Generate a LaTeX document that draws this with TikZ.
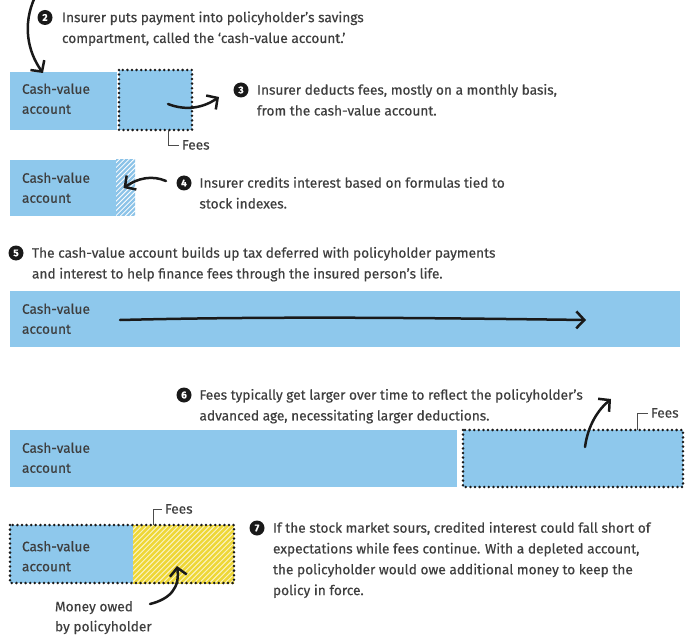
\documentclass[tikz,border=0pt]{standalone}
\usepackage{fontspec}
\setmainfont{Fira Sans}[FakeBold=0.35]
\usetikzlibrary{arrows.meta}
\definecolor{cvblue}{RGB}{142,200,236}
\definecolor{txt}{RGB}{62,62,62}
\definecolor{hyellow}{RGB}{238,215,55}
\definecolor{hblue}{RGB}{140,195,232}
\tikzset{
  x=1pt,y=-1pt,
  every node/.style={inner sep=0pt,outer sep=0pt},
  body/.style={anchor=north west,align=left,text=txt,font=\fontsize{13.7}{20.8}\selectfont},
  lbl/.style={anchor=north west,align=left,text=txt,font=\fontsize{13.7}{20}\selectfont},
  num/.style={circle,fill=black!90,text=white,minimum size=15pt,font=\bfseries\fontsize{10}{10}\selectfont},
  acct/.style={anchor=north west,fill=cvblue,draw=none},
  dotbox/.style={draw=black!90,line width=2.8pt,dash pattern=on 0pt off 4.6pt,line cap=round},
  harrow/.style={draw=black!90,line width=2.5pt,line cap=round,-{Straight Barb[length=8pt,width=17pt,line width=2.5pt]}},
  brk/.style={draw=black!70,line width=0.8pt},
}
\begin{document}
\begin{tikzpicture}
\useasboundingbox[fill=white] (0,0) rectangle (687,644);

% ---- step 2
\coordinate (a0) at (35,-3);
\node[num] (n2) at (45,17.5) {2};
\node[body] (t2) at (62,11.5) {Insurer puts payment into policyholder’s savings\\compartment, called the ‘cash-value account.’};

% ---- row 1
\node[acct,minimum width=107pt,minimum height=58pt] (b1) at (10,72) {};
\node[lbl] (b1t) at (22,83.5) {Cash-value\\account};
\node[acct,minimum width=73pt,minimum height=60pt] (f1) at (119,70) {};
\draw[dotbox] (f1.north west) rectangle (f1.south east);
\coordinate (f1b) at (168,130);
\node[lbl,anchor=west] (f1t) at (182,145) {Fees};
\draw[brk] (f1b) |- ([xshift=-3pt]f1t.west);
\draw[harrow] (a0) .. controls (22,25) and (28,52) .. (43,73);
\coordinate (a3s) at (168,104);
\coordinate (a3e) at (219,97);
\draw[harrow] (a3s) .. controls (186,111) and (203,108) .. (a3e);
\node[num] (n3) at (241,90) {3};
\node[body] (t3) at (257,84) {Insurer deducts fees, mostly on a monthly basis,\\from the cash-value account.};

% ---- row 2
\node[acct,minimum width=106pt,minimum height=56pt] (b2) at (10,160) {};
\node[lbl] (b2t) at (22,172.5) {Cash-value\\account};
\node[anchor=north west,minimum width=19pt,minimum height=56pt] (h2) at (116,160) {};
\begin{scope}
\clip (h2.north west) rectangle (h2.south east);
\foreach \i in {0,...,24} {\draw[hblue,line width=2.2pt] (40+\i*4.8,222) -- (106+\i*4.8,156);}
\end{scope}
\coordinate (a4s) at (166,181);
\draw[harrow] (a4s) .. controls (152,175) and (138,178) .. ([xshift=-2pt]h2.center);
\node[num] (n4) at (184,183) {4};
\node[body] (t4) at (199.5,177) {Insurer credits interest based on formulas tied to\\stock indexes.};

% ---- step 5
\node[num] (n5) at (16,253) {5};
\node[body] (t5) at (32,247) {The cash-value account builds up tax deferred with policyholder payments\\and interest to help finance fees through the insured person’s life.};
\node[acct,minimum width=670pt,minimum height=56pt] (b3) at (10,291) {};
\node[lbl] (b3t) at (22,303.5) {Cash-value\\account};
\coordinate (a5s) at (120,320);
\coordinate (a5e) at (586,320);
\draw[harrow] (a5s) .. controls (280,316) and (430,318) .. (a5e);

% ---- step 6
\node[num] (n6) at (184,395) {6};
\node[body] (t6) at (199.5,389) {Fees typically get larger over time to reflect the policyholder’s\\advanced age, necessitating larger deductions.};
\node[acct,minimum width=447pt,minimum height=57pt] (b4) at (10,430) {};
\node[lbl] (b4t) at (22,442.5) {Cash-value\\account};
\node[acct,minimum width=220pt,minimum height=57pt] (f4) at (463,430) {};
\draw[dotbox] (f4.north west) rectangle (f4.south east);
\coordinate (f4b) at (637,430);
\node[lbl,anchor=west] (f4t) at (651,413) {Fees};
\draw[brk] (f4b) |- ([xshift=-3pt]f4t.west);
\coordinate (a6s) at (585,447);
\coordinate (a6e) at (611,399);
\draw[harrow] (a6s) .. controls (588,425) and (598,410) .. (a6e);

% ---- step 7
\node[acct,minimum width=123pt,minimum height=58pt] (b5) at (10,525) {};
\node[lbl] (b5t) at (22,541) {Cash-value\\account};
\node[anchor=north west,minimum width=101pt,minimum height=58pt] (h5) at (133,525) {};
\begin{scope}
\clip (h5.north west) rectangle (h5.south east);
\fill[hyellow!30] (h5.north west) rectangle (h5.south east);
\foreach \i in {0,...,36} {\draw[hyellow,line width=2.4pt] (70+\i*5.2,590) -- (140+\i*5.2,520);}
\end{scope}
\draw[dotbox] (b5.north west) rectangle (h5.south east);
\coordinate (f5b) at (153,525);
\node[lbl,anchor=west] (f5t) at (165,509) {Fees};
\draw[brk] (f5b) |- ([xshift=-3pt]f5t.west);
\node[lbl] (mo) at (55,601) {Money owed\\by policyholder};
\coordinate (a7s) at (150,604);
\coordinate (a7e) at (177,566);
\draw[harrow] (a7s) .. controls (170,599) and (180,588) .. (a7e);
\node[num] (n7) at (257,528) {7};
\node[body] (t7) at (273,522) {If the stock market sours, credited interest could fall short of\\expectations while fees continue. With a depleted account,\\the policyholder would owe additional money to keep the\\policy in force.};
\end{tikzpicture}
\end{document}
